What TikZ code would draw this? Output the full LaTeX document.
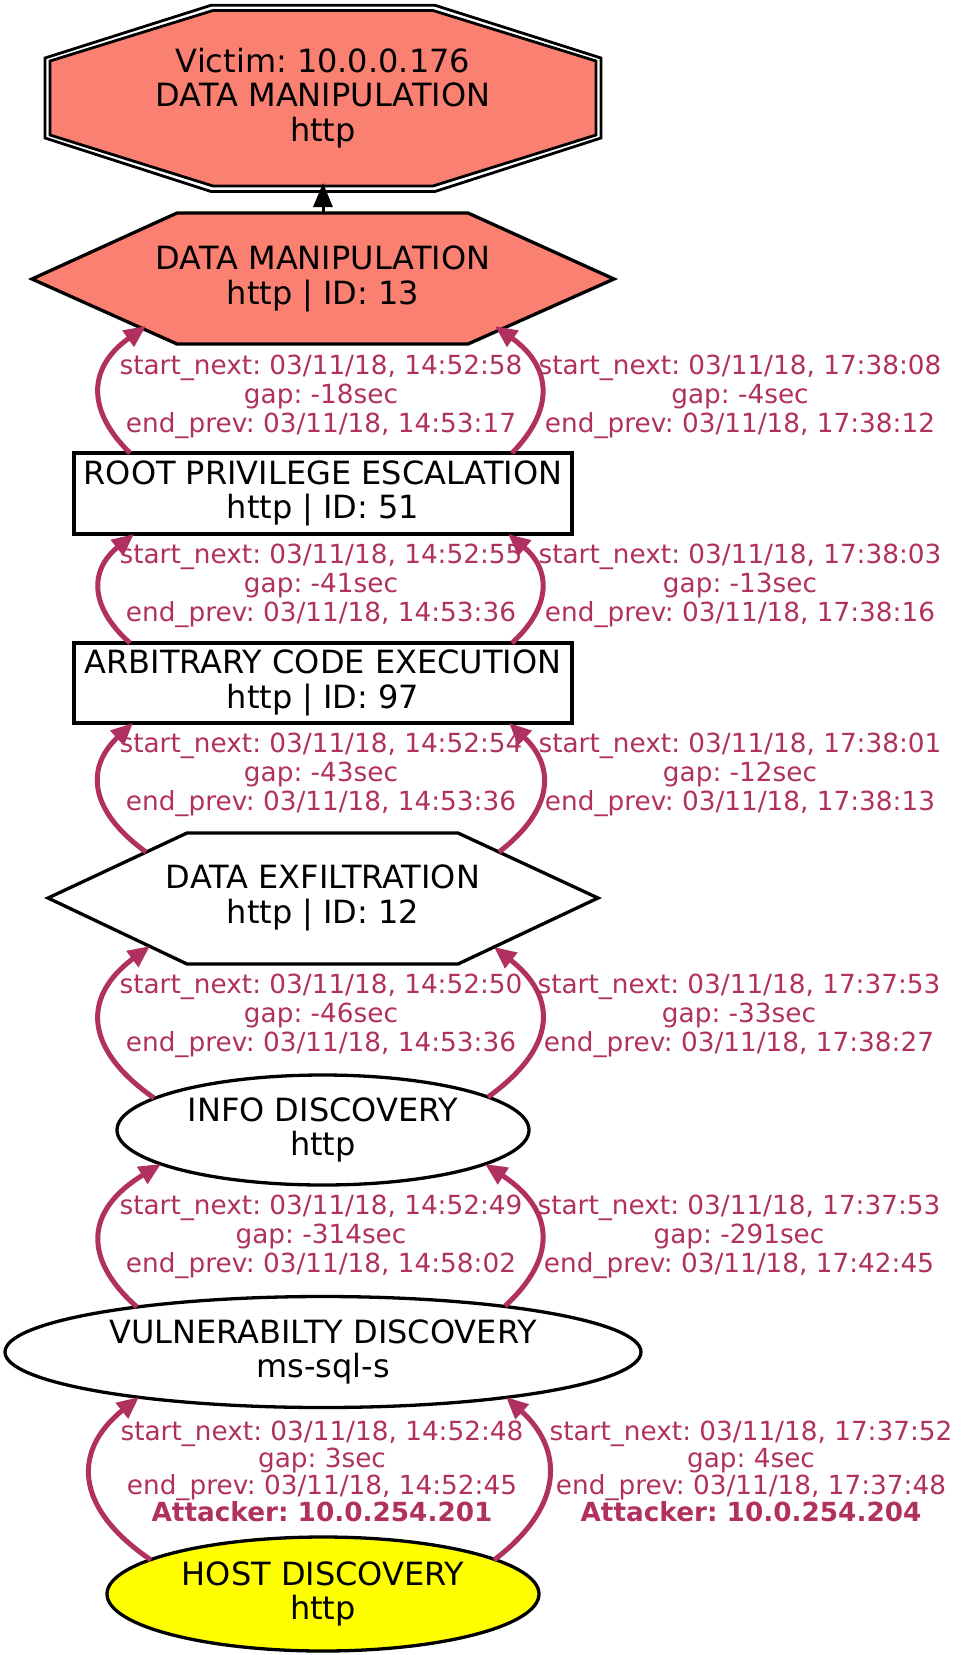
\documentclass[tikz,border=0pt]{standalone}
\usepackage{fontspec}
\setmainfont{DejaVu Sans}
\usetikzlibrary{shapes.geometric,arrows.meta}
\definecolor{salmon}{HTML}{FA8072}
\definecolor{edgecol}{HTML}{B03060}
\definecolor{hostyellow}{HTML}{FFFF00}
\frenchspacing
\tikzset{
  nodefont/.style={font=\frenchspacing\fontsize{32}{34.5}\selectfont},
  lab/.style={text=edgecol, align=center, inner sep=0pt, font=\frenchspacing\fontsize{26.3}{29}\selectfont},
  labb/.style={text=edgecol, align=center, inner sep=0pt, font=\frenchspacing\fontsize{26.3}{27}\selectfont},
  box/.style={draw, line width=3.3pt, rectangle, minimum width=498pt, inner sep=0pt, align=center, nodefont},
  ell/.style={draw, line width=3.3pt, ellipse, inner sep=0pt, align=center, nodefont},
  txt/.style={inner sep=0pt, align=center, nodefont},
  conn/.style={draw=edgecol, line width=5pt, -{Triangle[length=22pt,width=19pt]}},
  poly/.style={draw, line width=3.3pt, line join=miter}
}
\begin{document}
\begin{tikzpicture}[x=1pt,y=-1pt]
\useasboundingbox (0,0) rectangle (964,1655);
% victim octagon (double periphery)
\filldraw[fill=white, line width=2.8pt] (211,5.3) -- (435,5.3) -- (601,58) -- (601,138) -- (435,191.5) -- (211,191.5) -- (45,138) -- (45,58) -- cycle;
\filldraw[fill=salmon, line width=2.8pt] (213,10.5) -- (433,10.5) -- (596,61) -- (596,135) -- (433,186) -- (213,186) -- (50,135) -- (50,61) -- cycle;
\node[txt] (victim) at (323,98) {Victim: 10.0.0.176\\DATA MANIPULATION\\http};
% data manipulation hexagon
\filldraw[poly, fill=salmon] (177,213) -- (468,213) -- (614,279) -- (468,344) -- (177,344) -- (32,279) -- cycle;
\node[txt] (dm) at (323,279) {DATA MANIPULATION\\http | ID: 13};
% boxes
\node[box, minimum height=81pt] (root) at (323,493.5) {ROOT PRIVILEGE ESCALATION\\http | ID: 51};
\node[box, minimum height=80pt] (ace) at (323,683) {ARBITRARY CODE EXECUTION\\http | ID: 97};
% exfiltration hexagon
\draw[poly] (187,833) -- (458,833) -- (598,898) -- (458,964) -- (187,964) -- (48,898) -- cycle;
\node[txt] (exf) at (323,898) {DATA EXFILTRATION\\http | ID: 12};
% ellipses
\node[ell, minimum width=412pt, minimum height=110pt] (info) at (323,1130) {INFO DISCOVERY\\http};
\node[ell, minimum width=636pt, minimum height=111pt] (vuln) at (323,1352) {VULNERABILTY DISCOVERY\\ms-sql-s};
\node[ell, fill=hostyellow, minimum width=432pt, minimum height=114pt] (host) at (323,1594) {HOST DISCOVERY\\http};

% arrow to victim
\draw[line width=3pt, -{Triangle[length=24pt,width=19pt]}] ([shift={(0,-66)}]dm.center) -- ([shift={(0,85)}]victim.center);

% edges
\draw[conn] ([shift={(-193,-40.5)}]root.center) .. controls +(-43,-42) and +(-59,42) .. ([shift={(-177,47)}]dm.center);
\draw[conn] ([shift={(189,-40.5)}]root.center) .. controls +(41.5,-42) and +(58.5,42) .. ([shift={(172,47)}]dm.center);
\draw[conn] ([shift={(-193,-40)}]ace.center) .. controls +(-40.7,-36) and +(-44.7,36) .. ([shift={(-189,40.5)}]root.center);
\draw[conn] ([shift={(189,-40)}]ace.center) .. controls +(39.3,-36) and +(43.3,36) .. ([shift={(185,40.5)}]root.center);
\draw[conn] ([shift={(-177,-46)}]exf.center) .. controls +(-59.2,-43) and +(-46.2,43) .. ([shift={(-190,40)}]ace.center);
\draw[conn] ([shift={(176,-46)}]exf.center) .. controls +(55.7,-43) and +(45.7,43) .. ([shift={(186,40)}]ace.center);
\draw[conn] ([shift={(-169,-32)}]info.center) .. controls +(-71.3,-50) and +(-67.3,50) .. ([shift={(-173,48)}]exf.center);
\draw[conn] ([shift={(165,-33)}]info.center) .. controls +(69.7,-50) and +(63.7,50) .. ([shift={(171,49)}]exf.center);
\draw[conn] ([shift={(-186,-45)}]vuln.center) .. controls +(-53.3,-47) and +(-77.3,47) .. ([shift={(-162,34)}]info.center);
\draw[conn] ([shift={(182,-46)}]vuln.center) .. controls +(51.3,-47) and +(71.3,47) .. ([shift={(162,34)}]info.center);
\draw[conn] ([shift={(-172,-34)}]host.center) .. controls +(-78,-53) and +(-66,53) .. ([shift={(-184,45)}]vuln.center);
\draw[conn] ([shift={(171,-34)}]host.center) .. controls +(70,-53) and +(58,53) .. ([shift={(183,45)}]vuln.center);

% labels
\node[lab] (l1l) at (321,397) {start\_next: 03/11/18, 14:52:58\\gap: -18sec\\end\_prev: 03/11/18, 14:53:17};
\node[lab] (l1r) at (740,397) {start\_next: 03/11/18, 17:38:08\\gap: -4sec\\end\_prev: 03/11/18, 17:38:12};
\node[lab] (l2l) at (321,586) {start\_next: 03/11/18, 14:52:55\\gap: -41sec\\end\_prev: 03/11/18, 14:53:36};
\node[lab] (l2r) at (740,586) {start\_next: 03/11/18, 17:38:03\\gap: -13sec\\end\_prev: 03/11/18, 17:38:16};
\node[lab] (l3l) at (321,775) {start\_next: 03/11/18, 14:52:54\\gap: -43sec\\end\_prev: 03/11/18, 14:53:36};
\node[lab] (l3r) at (740,775) {start\_next: 03/11/18, 17:38:01\\gap: -12sec\\end\_prev: 03/11/18, 17:38:13};
\node[lab] (l4l) at (321,1016) {start\_next: 03/11/18, 14:52:50\\gap: -46sec\\end\_prev: 03/11/18, 14:53:36};
\node[lab] (l4r) at (739,1016) {start\_next: 03/11/18, 17:37:53\\gap: -33sec\\end\_prev: 03/11/18, 17:38:27};
\node[lab] (l5l) at (321,1237) {start\_next: 03/11/18, 14:52:49\\gap: -314sec\\end\_prev: 03/11/18, 14:58:02};
\node[lab] (l5r) at (739,1237) {start\_next: 03/11/18, 17:37:53\\gap: -291sec\\end\_prev: 03/11/18, 17:42:45};
\node[labb] (l6l) at (322,1471) {start\_next: 03/11/18, 14:52:48\\gap: 3sec\\end\_prev: 03/11/18, 14:52:45\\\textbf{Attacker: 10.0.254.201}};
\node[labb] (l6r) at (751,1471) {start\_next: 03/11/18, 17:37:52\\gap: 4sec\\end\_prev: 03/11/18, 17:37:48\\\textbf{Attacker: 10.0.254.204}};
\end{tikzpicture}
\end{document}
